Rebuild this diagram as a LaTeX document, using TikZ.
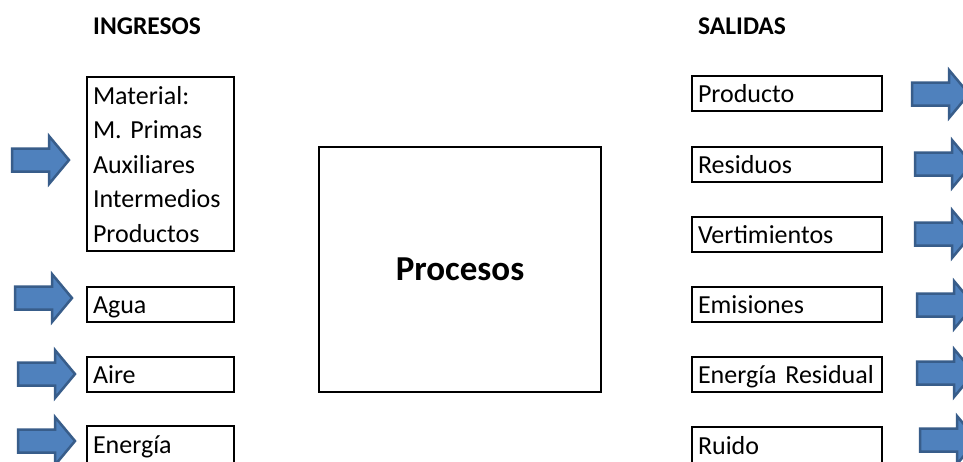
\documentclass[tikz,border=0pt]{standalone}
\usepackage{fontspec}
\setmainfont{Carlito}
\definecolor{arrowfill}{HTML}{4F81BD}
\definecolor{arrowedge}{HTML}{385D8A}
\begin{document}
\begin{tikzpicture}[x=1pt,y=-1pt,
  basebox/.style={draw=black, line width=2pt, inner xsep=6pt, inner ysep=0pt,
    outer sep=0pt, anchor=north west, align=left,
    font=\fontsize{26}{34.5}\selectfont},
  box/.style={basebox, text height=21pt, text depth=3pt, minimum height=35pt},
  inbox/.style={box, minimum width=147pt, text width=135pt},
  outbox/.style={box, minimum width=190pt, text width=178pt},
  heading/.style={anchor=base west, inner sep=0pt,
    font=\bfseries\fontsize{25.5}{30}\selectfont},
  arrowstyle/.style={fill=arrowfill, draw=arrowedge, line width=2.5pt,
    line join=miter},
  blockarrow/.pic={\draw[arrowstyle] (0,-11.5) -- (37,-11.5) -- (37,-24)
    -- (57,0) -- (37,24) -- (37,11.5) -- (0,11.5) -- cycle;}
]
\clip (0,0) rectangle (963,461);
\fill[white] (0,0) rectangle (963,461);

% column headings
\node[heading] (ing) at (93,34) {INGRESOS};
\node[heading] (sal) at (698,34) {SALIDAS};

% inputs
\node[basebox, minimum width=147pt, text width=135pt] (mat) at (87,77)
  {\rule{0pt}{27pt}Material:\\M. Primas\\Auxiliares\\Intermedios\\Productos\rule[-9pt]{0pt}{9pt}};
\node[inbox] (agua) at (87,287) {Agua};
\node[inbox] (aire) at (87,357) {Aire};
\node[inbox, minimum height=37pt] (energ) at (87,426) {Energía};

% central process
\node[draw=black, line width=2pt, minimum width=282pt, minimum height=245pt,
  font=\bfseries\fontsize{35}{40}\selectfont] (proc) at (460,269.5) {Procesos};

% outputs
\node[outbox] (prod) at (692,76) {Producto};
\node[outbox] (resid) at (692,147) {Residuos};
\node[outbox] (vert) at (692,217) {Vertimientos};
\node[outbox] (emis) at (692,287) {Emisiones};
\node[outbox] (eres) at (692,357) {Energía Residual};
\node[outbox, minimum height=37pt] (ruido) at (692,427) {Ruido};

% incoming arrows
\pic (inmat) at (12,160) {blockarrow};
\pic (inagua) at (15,298) {blockarrow};
\pic (inaire) at (18,374) {blockarrow};
\pic (inenerg) at (18,441) {blockarrow};

% outgoing arrows
\pic (outprod) at (912,94) {blockarrow};
\pic (outresid) at (915,164) {blockarrow};
\pic (outvert) at (915,234) {blockarrow};
\pic (outemis) at (917,305) {blockarrow};
\pic (outeres) at (917,373) {blockarrow};
\pic (outruido) at (920,440) {blockarrow};
\end{tikzpicture}
\end{document}
